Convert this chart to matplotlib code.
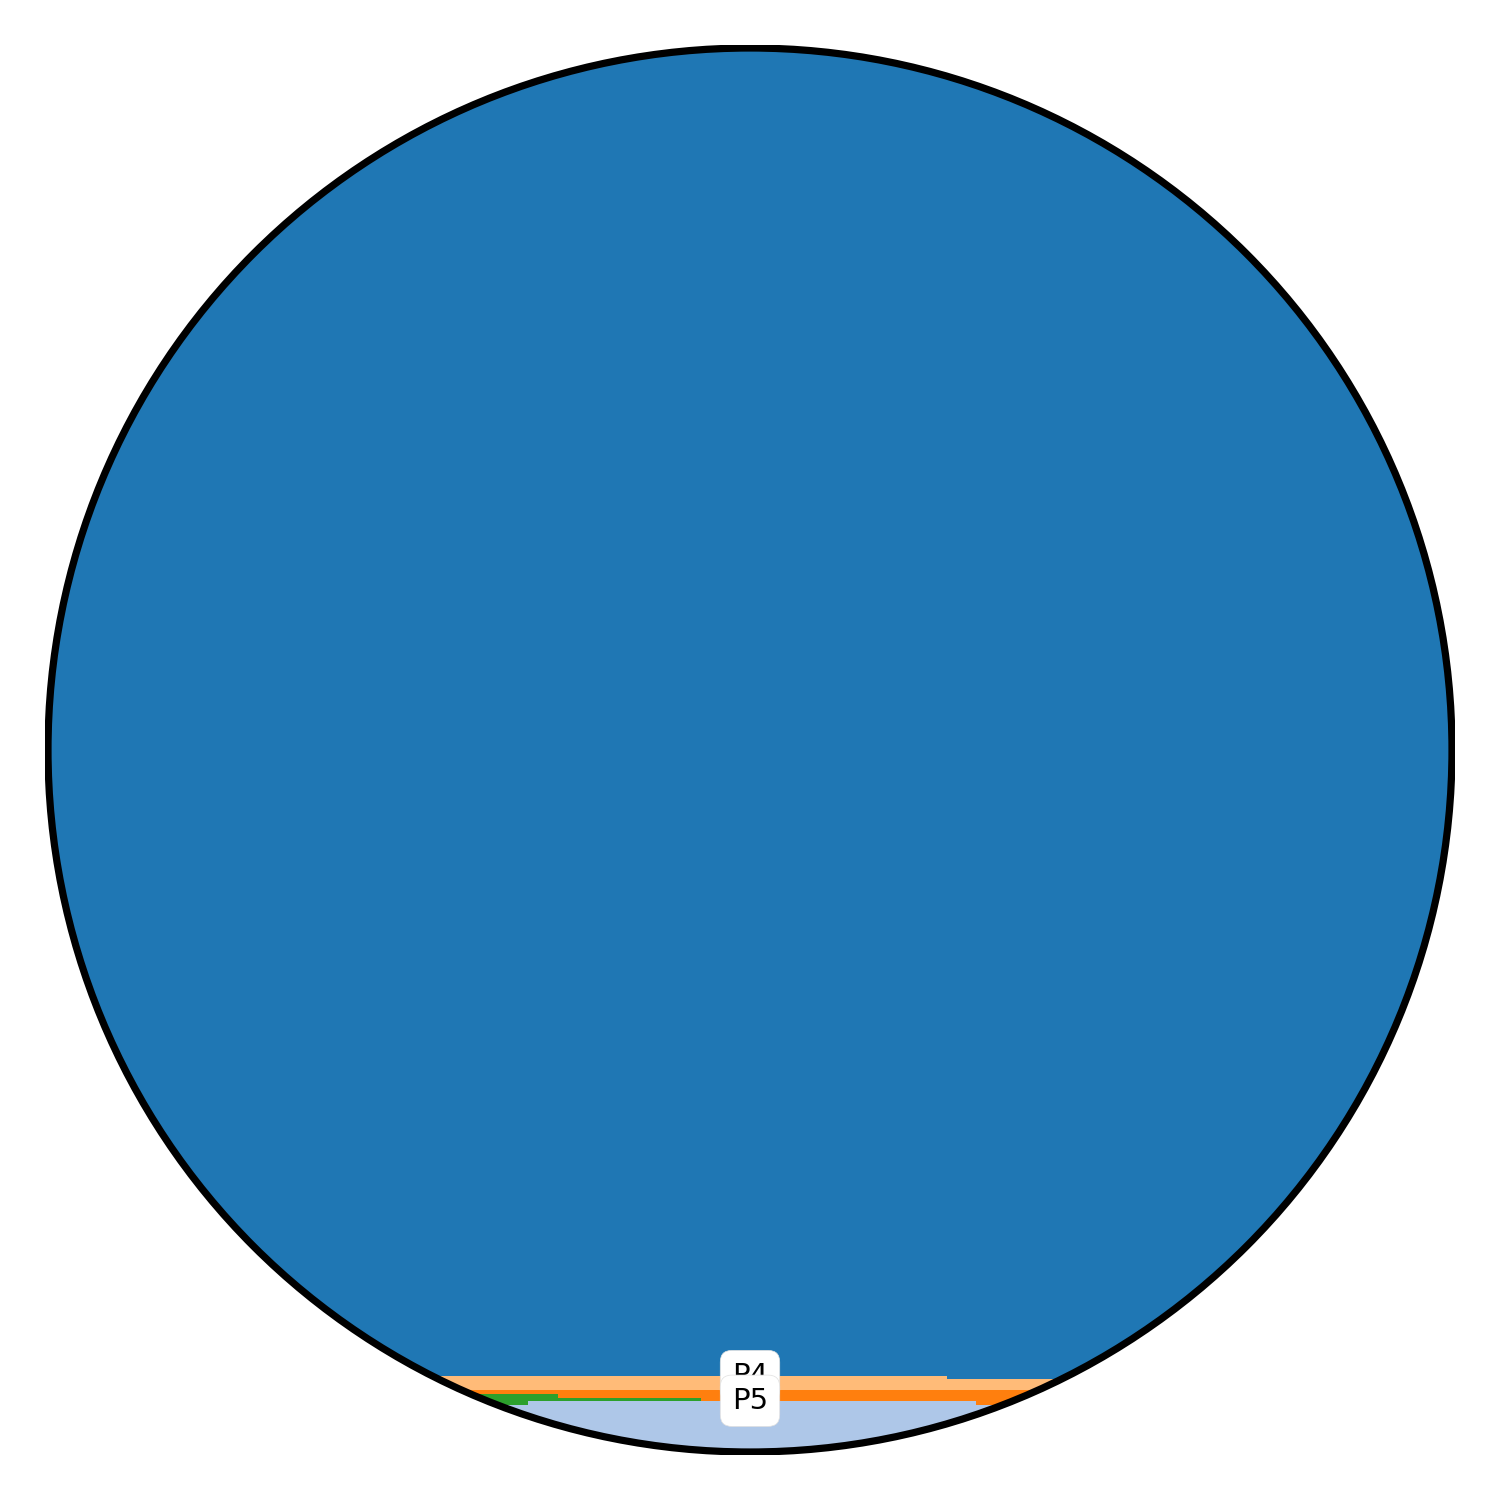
import numpy as np
import matplotlib
matplotlib.use("Agg")
import matplotlib.pyplot as plt
from matplotlib.patches import Circle

# step breakpoints along x (circle of diameter 100, centred at 0)
x_breaks = [-50.0, -15.8, -13.7, -3.5, 14.0, 16.1, 50.0]

# layer thickness per segment, stacked bottom -> top
layer_names = ["P2", "P5", "P3", "P4", "P1"]
p2_values = [3.35, 3.65, 3.65, 3.65, 3.65, 3.35]
p5_values = [0.78, 0.48, 0.17, 0.0, 0.0, 0.0]
p3_values = [0.29, 0.29, 0.60, 0.77, 0.77, 1.07]
p4_values = [0.99, 0.99, 0.99, 0.99, 0.78, 0.78]
p1_values = [94.59, 94.59, 94.59, 94.59, 94.80, 94.80]
layer_colors = ["#aec7e8", "#2ca02c", "#ff7f0e", "#ffbb78", "#1f77b4"]

labels_shown = ["P4", "P5"]
label_y_top = {"P4": "P4", "P5": "P2"}  # label sits at top of this layer at centre

fig = plt.figure(figsize=(15, 15), dpi=100)
ax = fig.add_axes([0.03, 0.03, 0.94, 0.94])
lim = 705 / 14.04
ax.set_xlim(-lim, lim)
ax.set_ylim(-lim, lim)
ax.set_aspect("equal")
ax.axis("off")

clip = Circle((0, 0), 50, transform=ax.transData)
layers = [p2_values, p5_values, p3_values, p4_values, p1_values]
base = np.full(len(p2_values), -50.0)
tops = {}
for name, vals, col in zip(layer_names, layers, layer_colors):
    v = np.array(vals)
    top = base + v
    xb = np.array(x_breaks)
    yb = np.append(base, base[-1])
    yt = np.append(top, top[-1])
    poly = ax.fill_between(xb, yb, yt, step="post", color=col, linewidth=0)
    poly.set_clip_path(clip)
    tops[name] = top
    base = top

ring = Circle((0, 0), 50, fill=False, edgecolor="black", linewidth=5.2, clip_on=True)
ax.add_patch(ring)

# find centre segment
mid_seg = np.searchsorted(x_breaks, 0.0) - 1
for lab in labels_shown:
    y = tops[label_y_top[lab]][mid_seg]
    ax.text(0, y, lab, ha="center", va="center", fontsize=21,
            bbox=dict(boxstyle="round,pad=0.4", fc="white", ec="#e0e0e0", lw=0.5))

fig.savefig("out.png", dpi=100)
